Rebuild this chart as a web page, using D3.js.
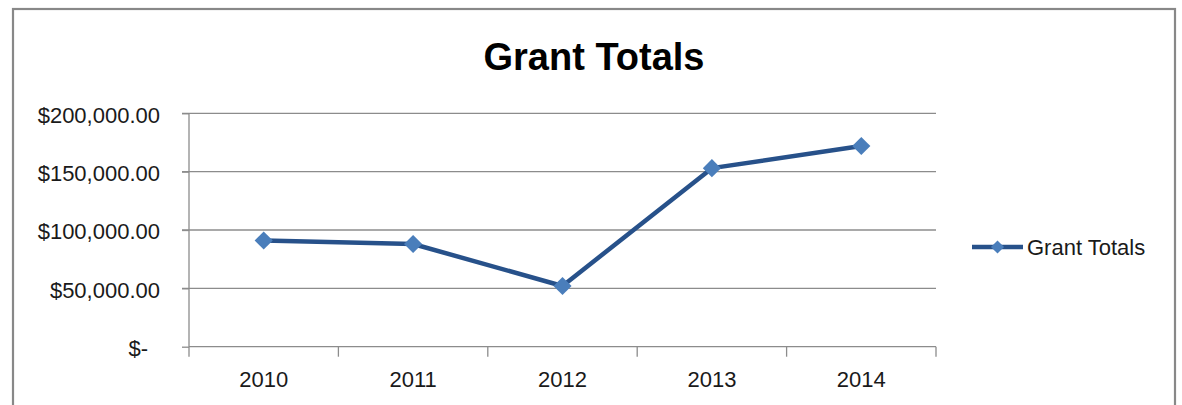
<!DOCTYPE html>
<html>
<head>
<meta charset="utf-8">
<script src="https://cdn.jsdelivr.net/npm/d3@7"></script>
<style>
  body { margin: 0; background: #fff; }
  svg { display: block; font-family: "Liberation Sans", Arial, sans-serif; }
  .grid line { stroke: #8c8c8c; stroke-width: 1.3; }
  .axis path, .axis line { stroke: #8c8c8c; stroke-width: 1.3; }
  .axis text { fill: #1a1a1a; font-size: 22px; }
</style>
</head>
<body>
<svg width="1182" height="405"></svg>
<script>
const years = ["2010", "2011", "2012", "2013", "2014"];
const grantTotals = [91000, 88000, 52000, 153000, 172000];
const yTicks = [0, 50000, 100000, 150000, 200000];
const seriesName = "Grant Totals";
const chartTitle = "Grant Totals";

let svg = d3.select("svg"),
    margin = {top: 113.3, right: 246, bottom: 58.3, left: 189},
    width = +svg.attr("width") - margin.left - margin.right,
    height = +svg.attr("height") - margin.top - margin.bottom;

// chart frame
svg.append("rect")
    .attr("x", 13)
    .attr("y", 9)
    .attr("width", 1162)
    .attr("height", 420)
    .attr("fill", "#fff")
    .attr("stroke", "#888")
    .attr("stroke-width", 2.2);

svg.append("text")
    .attr("x", 594)
    .attr("y", 70)
    .attr("text-anchor", "middle")
    .attr("font-size", 38)
    .attr("font-weight", "bold")
    .attr("fill", "#000")
    .text(chartTitle);

let g = svg.append("g")
    .attr("transform", "translate(" + margin.left + "," + margin.top + ")");

let x = d3.scaleBand()
    .domain(years)
    .range([0, width])
    .padding(0);

let y = d3.scaleLinear()
    .domain([0, 200000])
    .range([height, 0]);

let fmt = d3.format("$,.2f");

// horizontal gridlines
g.append("g")
    .attr("class", "grid")
    .selectAll("line")
    .data(yTicks.filter(d => d > 0))
    .enter().append("line")
      .attr("x1", -7)
      .attr("x2", width)
      .attr("y1", d => y(d))
      .attr("y2", d => y(d));

// y-axis
let yAxis = g.append("g")
    .attr("class", "axis axis--y")
    .call(d3.axisLeft(y).tickValues(yTicks).tickSize(7).tickPadding(22)
      .tickFormat(d => d === 0 ? "$-" : fmt(d)));
yAxis.select(".domain").attr("d", "M0,0V" + height);
yAxis.selectAll("text")
    .attr("dy", "0.4em")
    .attr("dx", d => d === 0 ? -12 : 0);

// x-axis with tick marks at category boundaries
let xAxis = g.append("g")
    .attr("class", "axis axis--x")
    .attr("transform", "translate(0," + height + ")");
xAxis.append("line")
    .attr("x1", 0).attr("x2", width)
    .attr("y1", 0).attr("y2", 0);
xAxis.selectAll(".bound")
    .data(years.map(d => x(d)).concat([width]))
    .enter().append("line")
      .attr("class", "bound")
      .attr("x1", d => d).attr("x2", d => d)
      .attr("y1", 0).attr("y2", 10);
xAxis.selectAll(".lbl")
    .data(years)
    .enter().append("text")
      .attr("class", "lbl")
      .attr("x", d => x(d) + x.bandwidth() / 2)
      .attr("y", 40)
      .attr("text-anchor", "middle")
      .text(d => d);

let data = years.map((d, i) => ({year: d, value: grantTotals[i]}));

let line = d3.line()
    .x(d => x(d.year) + x.bandwidth() / 2)
    .y(d => y(d.value));

g.append("path")
    .datum(data)
    .attr("fill", "none")
    .attr("stroke", "#27518a")
    .attr("stroke-width", 4.5)
    .attr("stroke-linejoin", "round")
    .attr("d", line);

let diamond = d3.symbol().type(d3.symbolDiamond2).size(210);

g.selectAll(".marker")
    .data(data)
    .enter().append("path")
      .attr("class", "marker")
      .attr("transform", d => "translate(" + (x(d.year) + x.bandwidth() / 2) + "," + y(d.value) + ")")
      .attr("d", diamond)
      .attr("fill", "#4a7ebb");

// legend
let legend = svg.append("g")
    .attr("transform", "translate(972,247)");
legend.append("line")
    .attr("x1", 0).attr("x2", 51)
    .attr("stroke", "#27518a")
    .attr("stroke-width", 4.5);
legend.append("path")
    .attr("transform", "translate(25.5,0)")
    .attr("d", d3.symbol().type(d3.symbolDiamond2).size(110))
    .attr("fill", "#4a7ebb");
legend.append("text")
    .attr("x", 55)
    .attr("dy", "0.36em")
    .attr("font-size", 22)
    .attr("fill", "#1a1a1a")
    .text(seriesName);
</script>
</body>
</html>
